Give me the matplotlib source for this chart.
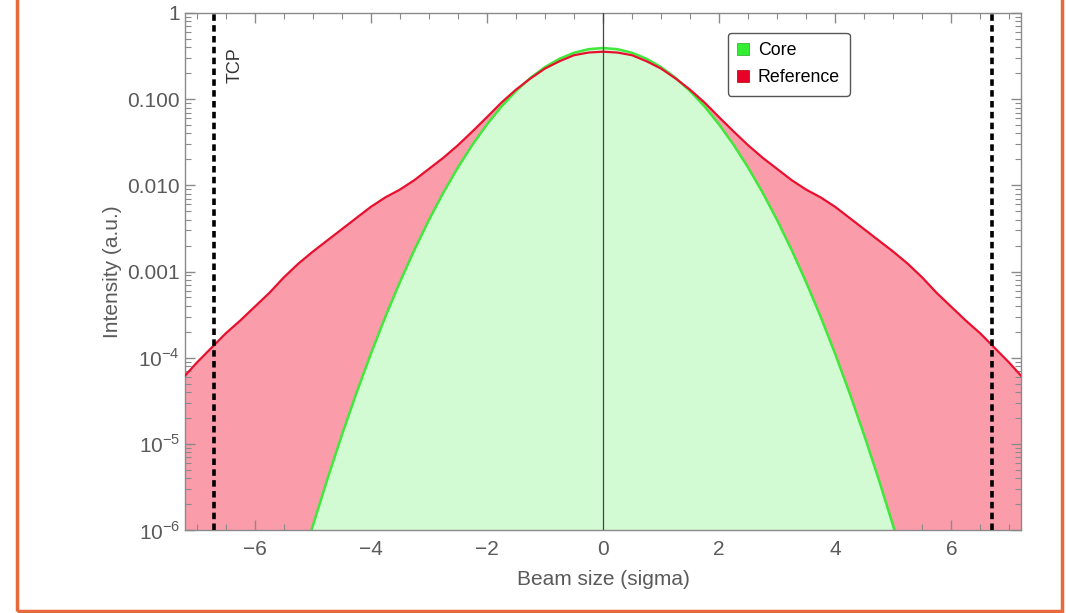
import matplotlib
matplotlib.use("Agg")
import matplotlib.pyplot as plt
from matplotlib.patches import Rectangle
from matplotlib.ticker import FixedLocator, LogLocator, NullFormatter, MultipleLocator

# ---- data ----
x_core = [-5.5, -5.25, -5.0, -4.75, -4.5, -4.25, -4.0, -3.75, -3.5, -3.25, -3.0, -2.75,
          -2.5, -2.25, -2.0, -1.75, -1.5, -1.25, -1.0, -0.75, -0.5, -0.25, 0.0,
          0.25, 0.5, 0.75, 1.0, 1.25, 1.5, 1.75, 2.0, 2.25, 2.5, 2.75,
          3.0, 3.25, 3.5, 3.75, 4.0, 4.25, 4.5, 4.75, 5.0, 5.25, 5.5]
core = [7.56e-8, 2.99e-7, 1.107e-6, 3.85e-6, 1.255e-5, 3.84e-5, 1.102e-4, 2.97e-4, 7.49e-4, 1.774e-3,
        3.945e-3, 8.23e-3, 1.609e-2, 2.952e-2, 5.08e-2, 8.21e-2, 0.1243, 0.1767, 0.2355, 0.2944,
        0.3455, 0.3802, 0.3926,
        0.3802, 0.3455, 0.2944, 0.2355, 0.1767, 0.1243, 8.21e-2, 5.08e-2, 2.952e-2, 1.609e-2, 8.23e-3,
        3.945e-3, 1.774e-3, 7.49e-4, 2.97e-4, 1.102e-4, 3.84e-5, 1.255e-5, 3.85e-6, 1.107e-6, 2.99e-7, 7.56e-8]

x_ref = [-7.2, -7.0, -6.75, -6.5, -6.25, -6.0, -5.75, -5.5, -5.25, -5.0, -4.75, -4.5, -4.25, -4.0,
         -3.75, -3.5, -3.25, -3.0, -2.75, -2.5, -2.25, -2.0, -1.75, -1.5, -1.25, -1.0, -0.75, -0.5,
         -0.25, 0.0,
         0.25, 0.5, 0.75, 1.0, 1.25, 1.5, 1.75, 2.0, 2.25, 2.5, 2.75, 3.0, 3.25, 3.5, 3.75,
         4.0, 4.25, 4.5, 4.75, 5.0, 5.25, 5.5, 5.75, 6.0, 6.25, 6.5, 6.75, 7.0, 7.2]
reference = [6.17e-5, 8.71e-5, 1.29e-4, 1.91e-4, 2.69e-4, 3.89e-4, 5.62e-4, 8.51e-4, 1.230e-3, 1.698e-3,
             2.291e-3, 3.09e-3, 4.17e-3, 5.62e-3, 7.24e-3, 8.91e-3, 1.148e-2, 1.549e-2, 2.089e-2, 2.917e-2,
             4.217e-2, 6.17e-2, 9.12e-2, 0.1288, 0.1738, 0.2265, 0.2754, 0.3236, 0.3475, 0.3556,
             0.3475, 0.3236, 0.2754, 0.2265, 0.1738, 0.1288, 9.12e-2, 6.17e-2, 4.217e-2, 2.917e-2,
             2.089e-2, 1.549e-2, 1.148e-2, 8.91e-3, 7.24e-3, 5.62e-3, 4.17e-3, 3.09e-3, 2.291e-3, 1.698e-3,
             1.230e-3, 8.51e-4, 5.62e-4, 3.89e-4, 2.69e-4, 1.91e-4, 1.29e-4, 8.71e-5, 6.17e-5]

tcp_pos = [-6.7, 6.7]
legend_labels = ["Core", "Reference"]
y_ticks = [1e-6, 1e-5, 1e-4, 1e-3, 1e-2, 1e-1, 1]
y_ticklabels = [r"$10^{-6}$", r"$10^{-5}$", r"$10^{-4}$", "0.001", "0.010", "0.100", "1"]
x_ticks = [-6, -4, -2, 0, 2, 4, 6]
x_ticklabels = ["\u22126", "\u22124", "\u22122", "0", "2", "4", "6"]

# ---- style ----
gray = "#5a5a5a"
frame = "#8a8a8a"
red_line = "#e8102e"
red_fill = "#fa9caa"
green_line = "#3fe83a"
green_fill = "#d3fbd3"

plt.rcParams["font.family"] = ["Liberation Sans", "DejaVu Sans"]
plt.rcParams["mathtext.fontset"] = "custom"
plt.rcParams["mathtext.rm"] = "Liberation Sans"

fig = plt.figure(figsize=(10.66, 6.13), dpi=100)
ax = fig.add_axes([185 / 1066, 1 - 530 / 613, (1021 - 185) / 1066, (530 - 13) / 613])

ax.fill_between(x_ref, reference, 1e-9, color=red_fill, lw=0, zorder=1)
ax.fill_between(x_core, core, 1e-9, color=green_fill, lw=0, zorder=2)
ax.plot(x_core, core, color=green_line, lw=1.8, zorder=2.5)
ax.plot(x_ref, reference, color=red_line, lw=1.6, zorder=3)

ax.axvline(0, color="#444444", lw=0.9, zorder=4)
for xp in tcp_pos:
    ax.axvline(xp, color="black", lw=2.6, ls=(0, (1.8, 1.2)), zorder=5)

ax.text(-6.33, 0.25, "TCP", rotation=90, ha="center", va="center", fontsize=13, color="#333333")

ax.set_yscale("log")
ax.set_xlim(-7.2, 7.2)
ax.set_ylim(1e-6, 1)

ax.yaxis.set_major_locator(FixedLocator(y_ticks))
ax.set_yticklabels(y_ticklabels)
ax.yaxis.set_minor_locator(LogLocator(base=10, subs=range(2, 10), numticks=20))
ax.yaxis.set_minor_formatter(NullFormatter())
ax.set_xticks(x_ticks)
ax.set_xticklabels(x_ticklabels)
ax.xaxis.set_minor_locator(MultipleLocator(0.5))

ax.tick_params(which="both", direction="in", top=True, right=True, colors=frame,
               labelcolor=gray, labelsize=15)
ax.tick_params(which="major", length=7, width=1.0)
ax.tick_params(which="minor", length=4, width=0.8)
ax.tick_params(axis="x", which="major", pad=7)
for s in ax.spines.values():
    s.set_color(frame)
    s.set_linewidth(1.0)

ax.set_xlabel("Beam size (sigma)", fontsize=15, color=gray, labelpad=8)
ax.set_ylabel("Intensity (a.u.)", fontsize=15, color=gray, labelpad=4)

# legend
handles = [Rectangle((0, 0), 1, 1, facecolor="#33ee33", edgecolor="#22aa22", lw=0.5),
           Rectangle((0, 0), 1, 1, facecolor="#e8002a", edgecolor="#aa0000", lw=0.5)]
leg = ax.legend(handles, legend_labels, loc="upper left", bbox_to_anchor=(0.649, 0.962),
                fontsize=12.8, handlelength=0.65, handleheight=0.65, handletextpad=0.5,
                borderpad=0.55, labelspacing=0.55, frameon=True, fancybox=True, framealpha=1,
                borderaxespad=0)
leg.get_frame().set_edgecolor("#555555")
leg.get_frame().set_linewidth(1.0)
leg.set_zorder(10)

# orange border around the figure
fig.patches.append(Rectangle((17 / 1066, 2 / 613), (1062 - 17) / 1066, 1.05, transform=fig.transFigure,
                             fill=False, edgecolor="#e8693c", lw=2.5))

fig.savefig("out.png", dpi=100)
